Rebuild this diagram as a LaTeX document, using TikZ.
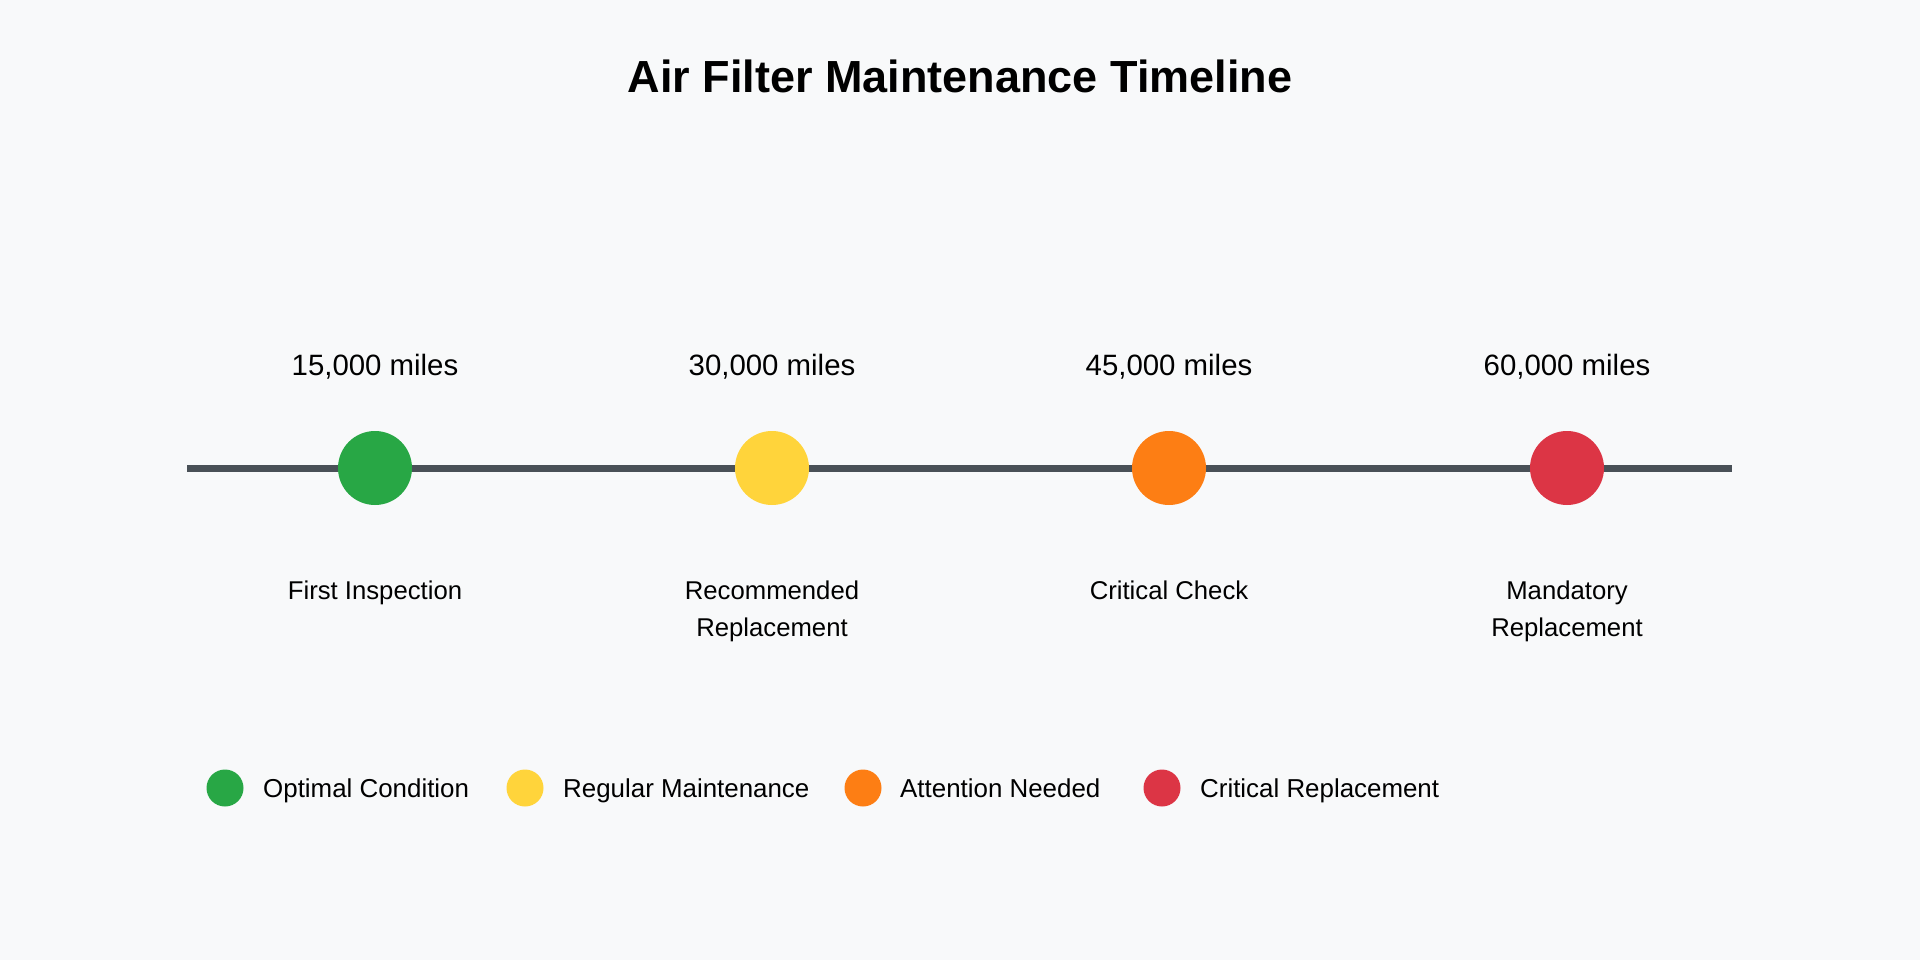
\documentclass[tikz,border=0pt]{standalone}
\usepackage{fontspec}
\setmainfont{Liberation Sans}
\usetikzlibrary{positioning}

\definecolor{bgcol}{HTML}{F8F9FA}
\definecolor{linecol}{HTML}{495057}
\definecolor{optimal}{HTML}{28A745}
\definecolor{regular}{HTML}{FFD43B}
\definecolor{attention}{HTML}{FD7E14}
\definecolor{critical}{HTML}{DC3545}

\begin{document}
\begin{tikzpicture}[x=1pt, y=-1pt,
        milestone/.style={circle, inner sep=0pt, minimum size=74pt},
        swatch/.style={circle, inner sep=0pt, minimum size=37pt},
        mileage/.style={anchor=base, inner sep=0pt, font=\fontsize{29.4}{35}\selectfont},
        stage/.style={anchor=north, inner sep=0pt, align=center, font=\fontsize{25.7}{37}\selectfont},
        legendtext/.style={anchor=base west, inner sep=0pt, font=\fontsize{25.9}{31}\selectfont}]
            \fill[bgcol] (0, 0) rectangle (1920, 960);
            \useasboundingbox (0, 0) rectangle (1920, 960);
            %\draw[lightgray] (0, 0) grid[step=100] (1920, 960);
            \node[anchor=base, inner sep=0pt, font=\fontsize{45}{54}\selectfont\bfseries] (title) at (960, 93) {Air Filter Maintenance Timeline};

            % timeline
            \coordinate (start) at (187, 468);
            \coordinate (end) at (1732, 468);
            \draw[linecol, line width=7pt] (start) -- (end);

            \node[milestone, fill=optimal] (first) at (375, 468) {};
            \node[milestone, fill=regular] (recommended) at (772, 468) {};
            \node[milestone, fill=attention] (check) at (1169, 468) {};
            \node[milestone, fill=critical] (mandatory) at (1567, 468) {};

            \node[mileage] (m15) at (375, 375) {15,000 miles};
            \node[mileage] (m30) at (772, 375) {30,000 miles};
            \node[mileage] (m45) at (1169, 375) {45,000 miles};
            \node[mileage] (m60) at (1567, 375) {60,000 miles};

            \node[stage] (first-txt) at (375, 581) {First Inspection};
            \node[stage] (recommended-txt) at (772, 581) {Recommended\\Replacement};
            \node[stage] (check-txt) at (1169, 581) {Critical Check};
            \node[stage] (mandatory-txt) at (1567, 581) {Mandatory\\Replacement};

            % legend
            \node[swatch, fill=optimal] (key1) at (225, 788) {};
            \node[legendtext] (key1-txt) at (263, 797) {Optimal Condition};
            \node[swatch, fill=regular] (key2) at (525, 788) {};
            \node[legendtext] (key2-txt) at (563, 797) {Regular Maintenance};
            \node[swatch, fill=attention] (key3) at (863, 788) {};
            \node[legendtext] (key3-txt) at (900, 797) {Attention Needed};
            \node[swatch, fill=critical] (key4) at (1162, 788) {};
            \node[legendtext] (key4-txt) at (1200, 797) {Critical Replacement};
        \end{tikzpicture}
\end{document}
